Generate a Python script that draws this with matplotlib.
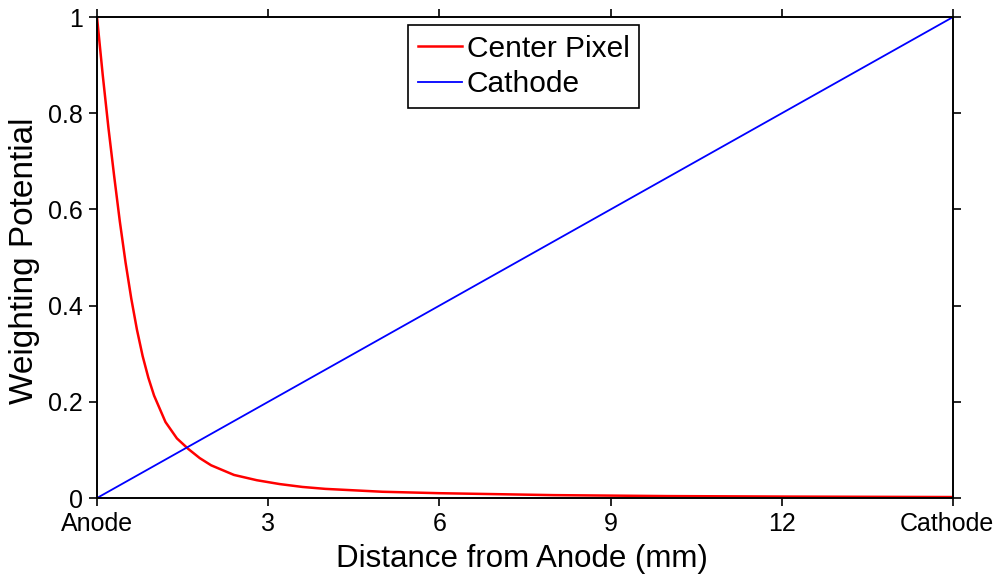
import matplotlib
matplotlib.use("Agg")
import matplotlib.pyplot as plt
from matplotlib.transforms import ScaledTranslation

plt.rcParams['font.family'] = ['Liberation Sans', 'DejaVu Sans']

# Data
pixel_x = [0, 0.1, 0.2, 0.3, 0.4, 0.5, 0.6, 0.7, 0.8, 0.9, 1.0, 1.2, 1.4,
           1.6, 1.8, 2.0, 2.4, 2.8, 3.2, 3.6, 4.0, 5, 6, 7, 8, 9, 10, 12, 15]
pixel_y = [1.0, 0.88, 0.77, 0.67, 0.575, 0.49, 0.415, 0.35, 0.295, 0.25,
           0.213, 0.158, 0.124, 0.102, 0.083, 0.068, 0.048, 0.037, 0.029,
           0.023, 0.019, 0.013, 0.010, 0.008, 0.006, 0.005, 0.004, 0.003,
           0.002]
cathode_x = [0, 15]
cathode_y = [0, 1]

xtick_pos = [0, 3, 6, 9, 12, 15]
xtick_labels = ['Anode', '3', '6', '9', '12', 'Cathode']
ytick_pos = [0, 0.2, 0.4, 0.6, 0.8, 1.0]
ytick_labels = ['0', '0.2', '0.4', '0.6', '0.8', '1']

fig = plt.figure(figsize=(10, 5.76), dpi=100)
ax = fig.add_axes([0.097, 0.1354, 0.856, 0.835])

ax.plot(pixel_x, pixel_y, color='#ff0000', lw=1.8, label='Center Pixel',
        solid_joinstyle='round')
ax.plot(cathode_x, cathode_y, color='#0000ff', lw=1.3, label='Cathode')

ax.set_xlim(0, 15)
ax.set_ylim(0, 1)
ax.set_xticks(xtick_pos)
ax.set_xticklabels(xtick_labels)
ax.set_yticks(ytick_pos)
ax.set_yticklabels(ytick_labels)
ax.tick_params(direction='out', length=6, width=1.2, top=True, right=True,
               labelsize=18, pad=4, colors='black')
for s in ax.spines.values():
    s.set_linewidth(1.4)
    s.set_color('black')

# shift the last x tick label left so it fits within the figure
last = ax.get_xticklabels()[-1]
last.set_transform(last.get_transform() +
                   ScaledTranslation(-6.5 / 100, 0, fig.dpi_scale_trans))

ax.set_xlabel('Distance from Anode (mm)', fontsize=22.5)
ax.xaxis.set_label_coords(0.4965, -0.095)
ax.set_ylabel('Weighting Potential', fontsize=24)
ax.yaxis.set_label_coords(-0.0666, 0.493)

leg = ax.legend(loc='upper center', bbox_to_anchor=(0.4988, 0.9834),
                fontsize=21.5, frameon=True, fancybox=False,
                edgecolor='black', handlelength=1.47, handletextpad=0.15,
                borderpad=0.33, labelspacing=0.24, borderaxespad=0.0)
leg.get_frame().set_linewidth(1.2)
leg.get_frame().set_alpha(1)

fig.savefig('out.png', dpi=100)
